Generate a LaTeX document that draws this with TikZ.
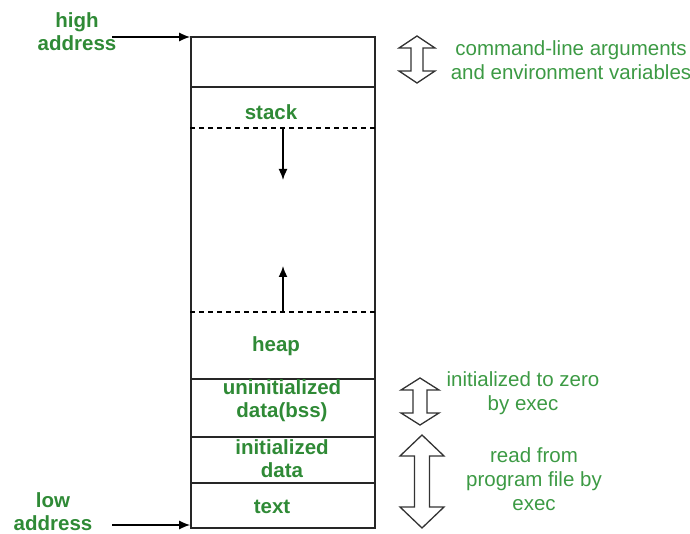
\documentclass[tikz,border=0pt]{standalone}
\usepackage{fontspec}
\setmainfont{Liberation Sans}
\usetikzlibrary{arrows.meta}
\definecolor{lblgreen}{HTML}{2F8A36}
\definecolor{notegreen}{HTML}{3C9A44}
\tikzset{
  seg/.style={draw=black!85, line width=1.6pt, minimum width=184pt, inner sep=0pt, anchor=north},
  boxlabel/.style={font=\fontsize{20.5}{23}\selectfont\bfseries, text=lblgreen, align=center, inner sep=0pt},
  note/.style={font=\fontsize{20.5}{24}\selectfont, text=notegreen, align=center, inner sep=0pt},
  pointer/.style={line width=1.6pt, -{Latex[length=11pt,width=9pt]}},
  growth/.style={line width=1.6pt, -{Latex[length=11pt,width=9pt]}},
  limit/.style={line width=1.4pt, dash pattern=on 5pt off 4pt},
  dblarrow/.style={draw=black!80, line width=1.3pt, fill=white, line join=miter}
}
% hollow two-headed arrow: centre x, top, bottom, head half width, head height, shaft half width
\newcommand{\spanarrow}[6]{%
  \draw[dblarrow] (#1,#2) -- (#1+#4,#2+#5) -- (#1+#6,#2+#5) -- (#1+#6,#3-#5) -- (#1+#4,#3-#5)
    -- (#1,#3) -- (#1-#4,#3-#5) -- (#1-#6,#3-#5) -- (#1-#6,#2+#5) -- (#1-#4,#2+#5) -- cycle;}
\begin{document}
\begin{tikzpicture}[x=1pt,y=-1pt]
\useasboundingbox (0,0) rectangle (690,534);
% memory segments, from high to low addresses
\node[seg, minimum height=50pt]  (args) at (283,36) {};
\node[seg, minimum height=292pt] (dyn)  at (283,86) {};
\node[seg, minimum height=58pt]  (bss)  at (283,378) {};
\node[seg, minimum height=46pt]  (data) at (283,436) {};
\node[seg, minimum height=45pt]  (txt)  at (283,482) {};

% stack and heap limits
\coordinate (stacktop) at (283,128);
\coordinate (heaptop)  at (283,312);
\draw[limit] (dyn.west |- stacktop) -- (dyn.east |- stacktop);
\draw[limit] (dyn.west |- heaptop) -- (dyn.east |- heaptop);
\coordinate (stackend) at (283,180);
\coordinate (heapend)  at (283,266);
\draw[growth] (stacktop) -- (stackend);
\draw[growth] (heaptop) -- (heapend);

% segment labels
\node[boxlabel] (lstack) at (271,112) {stack};
\node[boxlabel] (lheap)  at (276,346) {heap};
\node[boxlabel] (lbss)   at (282,401) {uninitialized\\data(bss)};
\node[boxlabel] (ldata)  at (282,459) {initialized\\data};
\node[boxlabel] (ltext)  at (272,507) {text};

% address ends
\node[boxlabel] (high) at (77,32) {high\\address};
\node[boxlabel] (low)  at (53,512) {low\\address};
\coordinate (highfrom) at (112,37);
\coordinate (lowfrom)  at (112,525);
\draw[pointer] (highfrom) -- (args.west |- highfrom);
\draw[pointer] (lowfrom) -- (txt.west |- lowfrom);

% extents on the right
\spanarrow{417}{36}{83}{18}{12}{6}
\spanarrow{420}{378}{425}{19}{12}{7}
\spanarrow{422}{435}{528}{22}{21}{7.5}
\node[note] (nargs) at (571,60)  {command-line arguments\\and environment variables};
\node[note] (nbss)  at (523,393) {initialized to zero\\by exec};
\node[note] (nprog) at (534,479) {read from\\program file by\\exec};
\end{tikzpicture}
\end{document}
